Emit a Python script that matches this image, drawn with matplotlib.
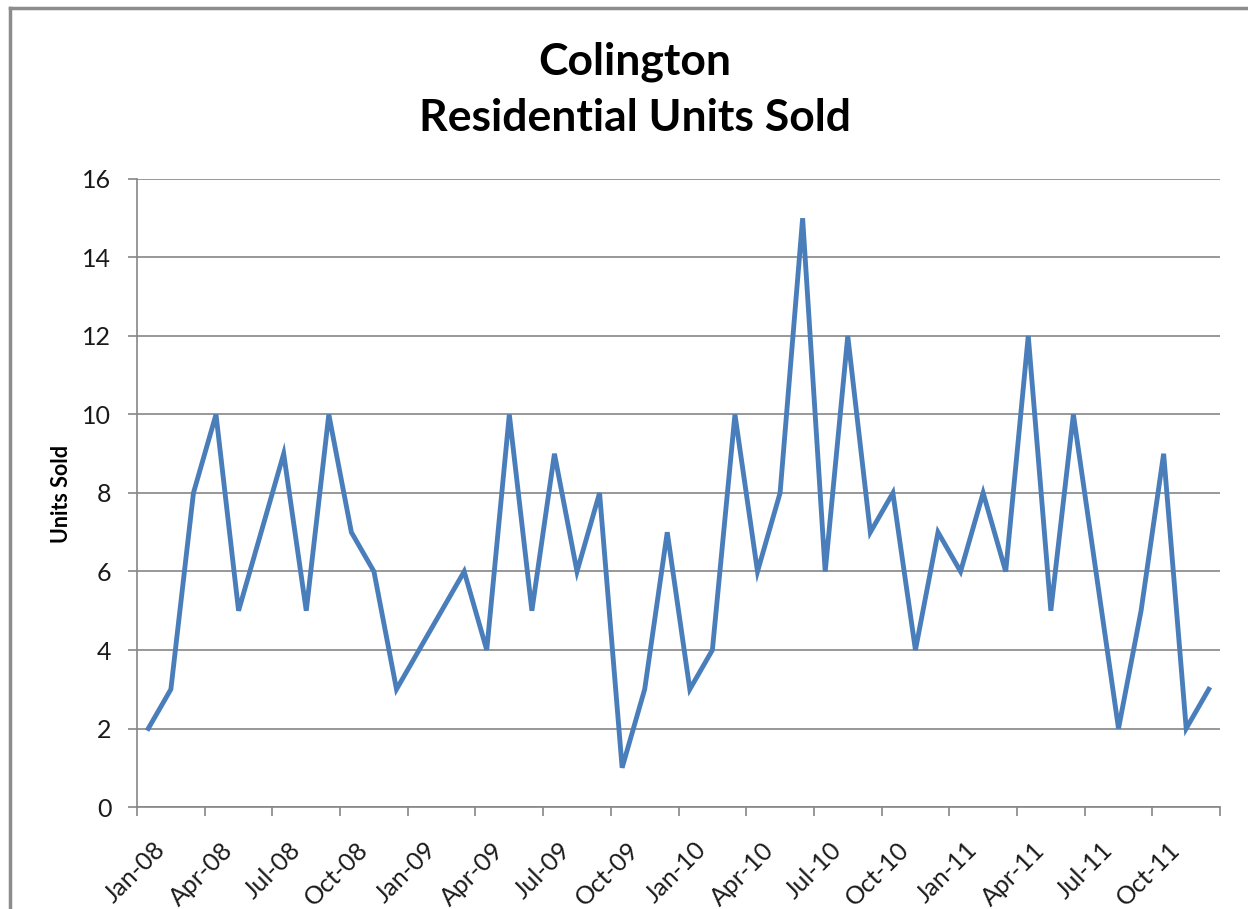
import matplotlib.pyplot as plt
from matplotlib.transforms import ScaledTranslation
import numpy as np

# monthly residential units sold, Jan-08 .. Dec-11
units = [2, 3, 8, 10, 5, 7, 9, 5, 10, 7, 6, 3,
         4, 5, 6, 4, 10, 5, 9, 6, 8, 1, 3, 7,
         3, 4, 10, 6, 8, 15, 6, 12, 7, 8, 4, 7,
         6, 8, 6, 12, 5, 10, 6, 2, 5, 9, 2, 3]
tick_labels = ['Jan-08', 'Apr-08', 'Jul-08', 'Oct-08',
               'Jan-09', 'Apr-09', 'Jul-09', 'Oct-09',
               'Jan-10', 'Apr-10', 'Jul-10', 'Oct-10',
               'Jan-11', 'Apr-11', 'Jul-11', 'Oct-11']

plt.rcParams['font.family'] = ['Lato', 'DejaVu Sans']

fig = plt.figure(figsize=(12.48, 9.09), dpi=100)
ax = fig.add_axes([0.1098, 0.1122, 0.8678, 0.6909])

# chart area border (left and top only visible in the crop)
fig.add_artist(plt.Line2D([10/1248, 10/1248], [0, 1 - 8/909], transform=fig.transFigure,
                          color='#8c8c8c', lw=2.5))
fig.add_artist(plt.Line2D([10/1248, 1], [1 - 8/909, 1 - 8/909], transform=fig.transFigure,
                          color='#8c8c8c', lw=2.5))

x = np.arange(len(units))
ax.plot(x, units, color='#4a7ebb', lw=3.5, solid_joinstyle='miter', zorder=3)

ax.set_xlim(-0.5, len(units) - 0.5)
ax.set_ylim(0, 16)
ax.set_yticks(range(0, 17, 2))
tick_pos = np.arange(-0.5, len(units), 3)
ax.set_xticks(tick_pos)
ax.set_xticklabels([])

# rotated date labels, placed like Excel does (end of text right of the tick)
offset = ScaledTranslation(0.16, -0.31, fig.dpi_scale_trans)
for pos, lbl in zip(tick_pos, tick_labels):
    ax.text(pos, 0, lbl, transform=ax.get_xaxis_transform() + offset,
            rotation=45, ha='right', va='top', rotation_mode='anchor',
            fontsize=18, color='#1a1a1a')

ax.grid(axis='y', color='#868686', lw=1.2)
ax.set_axisbelow(True)
for s in ['top', 'right']:
    ax.spines[s].set_visible(False)
for s in ['left', 'bottom']:
    ax.spines[s].set_color('#868686')
    ax.spines[s].set_linewidth(1.2)
ax.tick_params(axis='both', colors='#868686', width=1.2, length=6.5, labelsize=18,
               labelcolor='#1a1a1a')
ax.tick_params(axis='y', pad=12)

ax.set_ylabel('Units Sold', fontsize=15.5, fontweight='bold')
ax.yaxis.set_label_coords(-0.060, 0.498)

fig.text(0.509, 0.932, 'Colington', ha='center', va='center',
         fontsize=32, fontweight='bold')
fig.text(0.509, 0.870, 'Residential Units Sold', ha='center', va='center',
         fontsize=32, fontweight='bold')

fig.savefig('out.png', dpi=100)
